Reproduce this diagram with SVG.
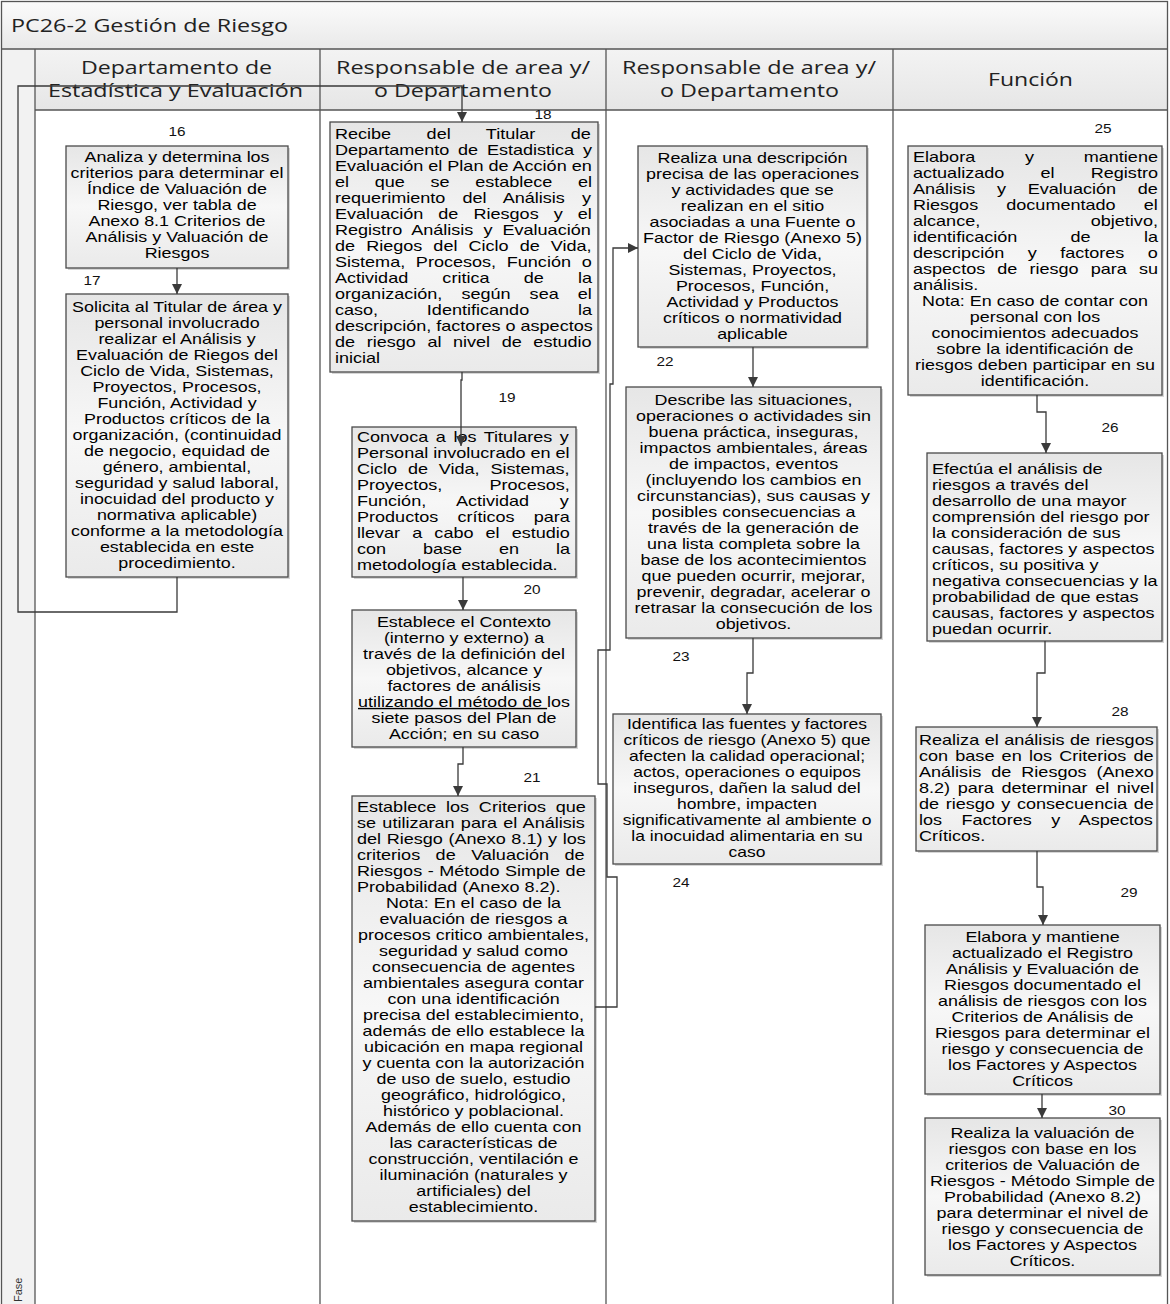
<svg xmlns="http://www.w3.org/2000/svg" width="1170" height="1304" viewBox="0 0 1170 1304">
<defs>
<linearGradient id="gb" x1="0" y1="0" x2="0" y2="1"><stop offset="0" stop-color="#e6e6e6"/><stop offset="0.5" stop-color="#f7f7f7"/><stop offset="1" stop-color="#eaeaea"/></linearGradient>
<linearGradient id="gt" x1="0" y1="0" x2="0" y2="1"><stop offset="0" stop-color="#fbfbfb"/><stop offset="1" stop-color="#e9e9e9"/></linearGradient>
<linearGradient id="gh" x1="0" y1="0" x2="0" y2="1"><stop offset="0" stop-color="#f3f3f3"/><stop offset="1" stop-color="#e6e6e6"/></linearGradient>
<marker id="ah" markerUnits="userSpaceOnUse" markerWidth="10" markerHeight="10" viewBox="0 0 10 10" refX="10" refY="5" orient="auto"><path d="M0,0 L10,5 L0,10 z" fill="#3a3a3a"/></marker>
</defs>
<style>
.box{fill:url(#gb);stroke:#4a4a4a;stroke-width:1.3}
.sh{fill:#000;opacity:.16}
.t{font-family:"Liberation Sans",Arial,sans-serif;font-size:14px;fill:#000}
.c{text-anchor:middle}
.n{font-family:"Liberation Sans",Arial,sans-serif;font-size:12px;fill:#111;text-anchor:middle}
.conn{fill:none;stroke:#3a3a3a;stroke-width:1.3;marker-end:url(#ah)}
.line{fill:none;stroke:#555;stroke-width:1.3}
.h{font-family:"Open Sans","Noto Sans",sans-serif;font-size:18px;fill:#222}
</style>
<g id="frame">
<rect x="0" y="0" width="1170" height="1304" fill="#fff"/>
<rect x="1.5" y="1.5" width="1166" height="48" fill="url(#gt)"/>
<rect x="35" y="49" width="1132" height="61" fill="url(#gh)"/>
<rect x="1.5" y="49" width="33.5" height="1260" fill="#f2f2f2"/>
<rect x="1.5" y="1.5" width="1166" height="1310" class="line"/>
<line x1="1.5" y1="49" x2="1167.5" y2="49" class="line"/>
<line x1="35" y1="110" x2="1167.5" y2="110" class="line"/>
<line x1="35" y1="49" x2="35" y2="1304" class="line"/>
<line x1="320" y1="49" x2="320" y2="1304" class="line"/>
<line x1="606" y1="49" x2="606" y2="1304" class="line"/>
<line x1="893" y1="49" x2="893" y2="1304" class="line"/>
<text class="h" x="11" y="32" font-size="19" textLength="277" lengthAdjust="spacingAndGlyphs">PC26-2 Gestión de Riesgo</text>
<text class="h" x="81" y="74" textLength="191" lengthAdjust="spacingAndGlyphs">Departamento de</text>
<text class="h" x="48" y="97" textLength="255" lengthAdjust="spacingAndGlyphs">Estadística y Evaluación</text>
<text class="h" x="336" y="74" textLength="254" lengthAdjust="spacingAndGlyphs">Responsable de area y/</text>
<text class="h" x="374" y="97" textLength="178" lengthAdjust="spacingAndGlyphs">o Departamento</text>
<text class="h" x="622" y="74" textLength="254" lengthAdjust="spacingAndGlyphs">Responsable de area y/</text>
<text class="h" x="660" y="97" textLength="179" lengthAdjust="spacingAndGlyphs">o Departamento</text>
<text class="h" x="988" y="86" textLength="85" lengthAdjust="spacingAndGlyphs">Función</text>
<text font-family="Liberation Sans, Arial, sans-serif" font-size="11" fill="#333" transform="translate(22,1302) rotate(-90)">Fase</text>
</g>
<g id="n16">
<rect class="sh" x="68" y="148" width="222" height="122"/><rect class="box" x="66" y="146" width="222" height="122"/>
<text class="n" transform="matrix(1.28 0 0 1 177 136)">16</text>
<text class="t c" transform="matrix(1.28 0 0 1 177 0)"><tspan x="0" y="162">Analiza y determina los</tspan><tspan x="0" y="178">criterios para determinar el</tspan><tspan x="0" y="194">Índice de Valuación de</tspan><tspan x="0" y="210">Riesgo, ver tabla de</tspan><tspan x="0" y="226">Anexo 8.1 Criterios de</tspan><tspan x="0" y="242">Análisis y Valuación de</tspan><tspan x="0" y="258">Riesgos</tspan></text>
</g>
<g id="n17">
<rect class="sh" x="68" y="296" width="222" height="283"/><rect class="box" x="66" y="294" width="222" height="283"/>
<text class="n" transform="matrix(1.28 0 0 1 92 285)">17</text>
<text class="t c" transform="matrix(1.28 0 0 1 177 0)"><tspan x="0" y="312">Solicita al Titular de área y</tspan><tspan x="0" y="328">personal involucrado</tspan><tspan x="0" y="344">realizar el Análisis y</tspan><tspan x="0" y="360">Evaluación de Riegos del</tspan><tspan x="0" y="376">Ciclo de Vida, Sistemas,</tspan><tspan x="0" y="392">Proyectos, Procesos,</tspan><tspan x="0" y="408">Función, Actividad y</tspan><tspan x="0" y="424">Productos críticos de la</tspan><tspan x="0" y="440">organización, (continuidad</tspan><tspan x="0" y="456">de negocio, equidad de</tspan><tspan x="0" y="472">género, ambiental,</tspan><tspan x="0" y="488">seguridad y salud laboral,</tspan><tspan x="0" y="504">inocuidad del producto y</tspan><tspan x="0" y="520">normativa aplicable)</tspan><tspan x="0" y="536">conforme a la metodología</tspan><tspan x="0" y="552">establecida en este</tspan><tspan x="0" y="568">procedimiento.</tspan></text>
</g>
<g id="n18">
<rect class="sh" x="332" y="124" width="268" height="250"/><rect class="box" x="330" y="122" width="268" height="250"/>
<text class="n" transform="matrix(1.28 0 0 1 543 119)">18</text>
<text class="t" transform="matrix(1.29 0 0 1 335 0)"><tspan x="0" y="139" word-spacing="23.6">Recibe del Titular de</tspan><tspan x="0" y="155" word-spacing="2.9">Departamento de Estadistica y</tspan><tspan x="0" y="171">Evaluación el Plan de Acción en</tspan><tspan x="0" y="187" word-spacing="16">el que se establece el</tspan><tspan x="0" y="203" word-spacing="9.4">requerimiento del Análisis y</tspan><tspan x="0" y="219" word-spacing="7.8">Evaluación de Riesgos y el</tspan><tspan x="0" y="235" word-spacing="3.9">Registro Análisis y Evaluación</tspan><tspan x="0" y="251" word-spacing="4.7">de Riegos del Ciclo de Vida,</tspan><tspan x="0" y="267" word-spacing="4.4">Sistema, Procesos, Función o</tspan><tspan x="0" y="283" word-spacing="22.6">Actividad critica de la</tspan><tspan x="0" y="299" word-spacing="10.9">organización, según sea el</tspan><tspan x="0" y="315" word-spacing="33.9">caso, Identificando la</tspan><tspan x="0" y="331">descripción, factores o aspectos</tspan><tspan x="0" y="347" word-spacing="5.1">de riesgo al nivel de estudio</tspan><tspan x="0" y="363">inicial</tspan></text>
</g>
<g id="n19">
<rect class="sh" x="354" y="429" width="224" height="150"/><rect class="box" x="352" y="427" width="224" height="150"/>
<text class="n" transform="matrix(1.28 0 0 1 507 402)">19</text>
<text class="t" transform="matrix(1.29 0 0 1 357 0)"><tspan x="0" y="442" word-spacing="2">Convoca a los Titulares y</tspan><tspan x="0" y="458">Personal involucrado en el</tspan><tspan x="0" y="474" word-spacing="4.5">Ciclo de Vida, Sistemas,</tspan><tspan x="0" y="490" word-spacing="32.8">Proyectos, Procesos,</tspan><tspan x="0" y="506" word-spacing="19.9">Función, Actividad y</tspan><tspan x="0" y="522" word-spacing="11">Productos críticos para</tspan><tspan x="0" y="538" word-spacing="5.5">llevar a cabo el estudio</tspan><tspan x="0" y="554" word-spacing="24.7">con base en la</tspan><tspan x="0" y="570">metodología establecida.</tspan></text>
</g>
<g id="n20">
<rect class="sh" x="354" y="612" width="224" height="137"/><rect class="box" x="352" y="610" width="224" height="137"/>
<text class="n" transform="matrix(1.28 0 0 1 532 594)">20</text>
<text class="t c" transform="matrix(1.28 0 0 1 464 0)"><tspan x="0" y="627">Establece el Contexto</tspan><tspan x="0" y="643">(interno y externo) a</tspan><tspan x="0" y="659">través de la definición del</tspan><tspan x="0" y="675">objetivos, alcance y</tspan><tspan x="0" y="691">factores de análisis</tspan><tspan x="0" y="707"><tspan text-decoration="underline">utilizando el método de </tspan>los</tspan><tspan x="0" y="723">siete pasos del Plan de</tspan><tspan x="0" y="739">Acción; en su caso</tspan></text>
</g>
<g id="n21">
<rect class="sh" x="354" y="798" width="243" height="425"/><rect class="box" x="352" y="796" width="243" height="425"/>
<text class="n" transform="matrix(1.28 0 0 1 532 782)">21</text>
<text class="t" transform="matrix(1.29 0 0 1 357 0)"><tspan x="0" y="812" word-spacing="3.7">Establece los Criterios que</tspan><tspan x="0" y="828" word-spacing="1">se utilizaran para el Análisis</tspan><tspan x="0" y="844" word-spacing="0.5">del Riesgo (Anexo 8.1) y los</tspan><tspan x="0" y="860" word-spacing="8.1">criterios de Valuación de</tspan><tspan x="0" y="876" word-spacing="0.4">Riesgos - Método Simple de</tspan><tspan x="0" y="892">Probabilidad (Anexo 8.2).</tspan></text>
<text class="t c" transform="matrix(1.28 0 0 1 473.5 0)"><tspan x="0" y="908">Nota: En el caso de la</tspan><tspan x="0" y="924">evaluación de riesgos a</tspan><tspan x="0" y="940">procesos critico ambientales,</tspan><tspan x="0" y="956">seguridad y salud como</tspan><tspan x="0" y="972">consecuencia de agentes</tspan><tspan x="0" y="988">ambientales asegura contar</tspan><tspan x="0" y="1004">con una identificación</tspan><tspan x="0" y="1020">precisa del establecimiento,</tspan><tspan x="0" y="1036">además de ello establece la</tspan><tspan x="0" y="1052">ubicación en mapa regional</tspan><tspan x="0" y="1068">y cuenta con la autorización</tspan><tspan x="0" y="1084">de uso de suelo, estudio</tspan><tspan x="0" y="1100">geográfico, hidrológico,</tspan><tspan x="0" y="1116">histórico y poblacional.</tspan><tspan x="0" y="1132">Además de ello cuenta con</tspan><tspan x="0" y="1148">las características de</tspan><tspan x="0" y="1164">construcción, ventilación e</tspan><tspan x="0" y="1180">iluminación (naturales y</tspan><tspan x="0" y="1196">artificiales) del</tspan><tspan x="0" y="1212">establecimiento.</tspan></text>
</g>
<g id="n22">
<rect class="sh" x="640" y="148" width="229" height="201"/><rect class="box" x="638" y="146" width="229" height="201"/>
<text class="n" transform="matrix(1.28 0 0 1 665 366)">22</text>
<text class="t c" transform="matrix(1.28 0 0 1 752.5 0)"><tspan x="0" y="163">Realiza una descripción</tspan><tspan x="0" y="179">precisa de las operaciones</tspan><tspan x="0" y="195">y actividades que se</tspan><tspan x="0" y="211">realizan en el sitio</tspan><tspan x="0" y="227">asociadas a una Fuente o</tspan><tspan x="0" y="243">Factor de Riesgo (Anexo 5)</tspan><tspan x="0" y="259">del Ciclo de Vida,</tspan><tspan x="0" y="275">Sistemas, Proyectos,</tspan><tspan x="0" y="291">Procesos, Función,</tspan><tspan x="0" y="307">Actividad y Productos</tspan><tspan x="0" y="323">críticos o normatividad</tspan><tspan x="0" y="339">aplicable</tspan></text>
</g>
<g id="n23">
<rect class="sh" x="628" y="389" width="255" height="251"/><rect class="box" x="626" y="387" width="255" height="251"/>
<text class="n" transform="matrix(1.28 0 0 1 681 661)">23</text>
<text class="t c" transform="matrix(1.28 0 0 1 753.5 0)"><tspan x="0" y="405">Describe las situaciones,</tspan><tspan x="0" y="421">operaciones o actividades sin</tspan><tspan x="0" y="437">buena práctica, inseguras,</tspan><tspan x="0" y="453">impactos ambientales, áreas</tspan><tspan x="0" y="469">de impactos, eventos</tspan><tspan x="0" y="485">(incluyendo los cambios en</tspan><tspan x="0" y="501">circunstancias), sus causas y</tspan><tspan x="0" y="517">posibles consecuencias a</tspan><tspan x="0" y="533">través de la generación de</tspan><tspan x="0" y="549">una lista completa sobre la</tspan><tspan x="0" y="565">base de los acontecimientos</tspan><tspan x="0" y="581">que pueden ocurrir, mejorar,</tspan><tspan x="0" y="597">prevenir, degradar, acelerar o</tspan><tspan x="0" y="613">retrasar la consecución de los</tspan><tspan x="0" y="629">objetivos.</tspan></text>
</g>
<g id="n24">
<rect class="sh" x="615" y="716" width="268" height="150"/><rect class="box" x="613" y="714" width="268" height="150"/>
<text class="n" transform="matrix(1.28 0 0 1 681 887)">24</text>
<text class="t c" transform="matrix(1.25 0 0 1 747 0)"><tspan x="0" y="729">Identifica las fuentes y factores</tspan><tspan x="0" y="745">críticos de riesgo (Anexo 5) que</tspan><tspan x="0" y="761">afecten la calidad operacional;</tspan><tspan x="0" y="777">actos, operaciones o equipos</tspan><tspan x="0" y="793">inseguros, dañen la salud del</tspan><tspan x="0" y="809">hombre, impacten</tspan><tspan x="0" y="825">significativamente al ambiente o</tspan><tspan x="0" y="841">la inocuidad alimentaria en su</tspan><tspan x="0" y="857">caso</tspan></text>
</g>
<g id="n25">
<rect class="sh" x="910" y="148" width="254" height="249"/><rect class="box" x="908" y="146" width="254" height="249"/>
<text class="n" transform="matrix(1.28 0 0 1 1103 133)">25</text>
<text class="t" transform="matrix(1.29 0 0 1 913 0)"><tspan x="0" y="162" word-spacing="34.7">Elabora y mantiene</tspan><tspan x="0" y="178" word-spacing="24.2">actualizado el Registro</tspan><tspan x="0" y="194" word-spacing="13">Análisis y Evaluación de</tspan><tspan x="0" y="210" word-spacing="17.9">Riesgos documentado el</tspan><tspan x="0" y="226" word-spacing="81.8">alcance, objetivo,</tspan><tspan x="0" y="242" word-spacing="37.4">identificación de la</tspan><tspan x="0" y="258" word-spacing="14.3">descripción y factores o</tspan><tspan x="0" y="274" word-spacing="5.5">aspectos de riesgo para su</tspan><tspan x="0" y="290">análisis.</tspan></text>
<text class="t c" transform="matrix(1.28 0 0 1 1035 0)"><tspan x="0" y="306">Nota: En caso de contar con</tspan><tspan x="0" y="322">personal con los</tspan><tspan x="0" y="338">conocimientos adecuados</tspan><tspan x="0" y="354">sobre la identificación de</tspan><tspan x="0" y="370">riesgos deben participar en su</tspan><tspan x="0" y="386">identificación.</tspan></text>
</g>
<g id="n26">
<rect class="sh" x="929" y="455" width="235" height="188"/><rect class="box" x="927" y="453" width="235" height="188"/>
<text class="n" transform="matrix(1.28 0 0 1 1110 432)">26</text>
<text class="t" transform="matrix(1.29 0 0 1 932 0)"><tspan x="0" y="474">Efectúa el análisis de</tspan><tspan x="0" y="490">riesgos a través del</tspan><tspan x="0" y="506">desarrollo de una mayor</tspan><tspan x="0" y="522">comprensión del riesgo por</tspan><tspan x="0" y="538">la consideración de sus</tspan><tspan x="0" y="554">causas, factores y aspectos</tspan><tspan x="0" y="570">críticos, su positiva y</tspan><tspan x="0" y="586">negativa consecuencias y la</tspan><tspan x="0" y="602">probabilidad de que estas</tspan><tspan x="0" y="618">causas, factores y aspectos</tspan><tspan x="0" y="634">puedan ocurrir.</tspan></text>
</g>
<g id="n28">
<rect class="sh" x="918" y="729" width="241" height="124"/><rect class="box" x="916" y="727" width="241" height="124"/>
<text class="n" transform="matrix(1.28 0 0 1 1120 716)">28</text>
<text class="t" transform="matrix(1.29 0 0 1 919 0)"><tspan x="0" y="745" word-spacing="0.4">Realiza el análisis de riesgos</tspan><tspan x="0" y="761" word-spacing="1.7">con base en los Criterios de</tspan><tspan x="0" y="777" word-spacing="3.9">Análisis de Riesgos (Anexo</tspan><tspan x="0" y="793" word-spacing="2">8.2) para determinar el nivel</tspan><tspan x="0" y="809" word-spacing="1.2">de riesgo y consecuencia de</tspan><tspan x="0" y="825" word-spacing="11.2">los Factores y Aspectos</tspan><tspan x="0" y="841">Críticos.</tspan></text>
</g>
<g id="n29">
<rect class="sh" x="927" y="927" width="235" height="169"/><rect class="box" x="925" y="925" width="235" height="169"/>
<text class="n" transform="matrix(1.28 0 0 1 1129 897)">29</text>
<text class="t c" transform="matrix(1.28 0 0 1 1042.5 0)"><tspan x="0" y="942">Elabora y mantiene</tspan><tspan x="0" y="958">actualizado el Registro</tspan><tspan x="0" y="974">Análisis y Evaluación de</tspan><tspan x="0" y="990">Riesgos documentado el</tspan><tspan x="0" y="1006">análisis de riesgos con los</tspan><tspan x="0" y="1022">Criterios de Análisis de</tspan><tspan x="0" y="1038">Riesgos para determinar el</tspan><tspan x="0" y="1054">riesgo y consecuencia de</tspan><tspan x="0" y="1070">los Factores y Aspectos</tspan><tspan x="0" y="1086">Críticos</tspan></text>
</g>
<g id="n30">
<rect class="sh" x="927" y="1120" width="235" height="157"/><rect class="box" x="925" y="1118" width="235" height="157"/>
<text class="n" transform="matrix(1.28 0 0 1 1117 1115)">30</text>
<text class="t c" transform="matrix(1.28 0 0 1 1042.5 0)"><tspan x="0" y="1138">Realiza la valuación de</tspan><tspan x="0" y="1154">riesgos con base en los</tspan><tspan x="0" y="1170">criterios de Valuación de</tspan><tspan x="0" y="1186">Riesgos - Método Simple de</tspan><tspan x="0" y="1202">Probabilidad (Anexo 8.2)</tspan><tspan x="0" y="1218">para determinar el nivel de</tspan><tspan x="0" y="1234">riesgo y consecuencia de</tspan><tspan x="0" y="1250">los Factores y Aspectos</tspan><tspan x="0" y="1266">Críticos.</tspan></text>
</g>
<g id="connectors">
<path class="conn" d="M177,268 V294"/>
<path class="conn" d="M177,577 V612 H18 V86 H462 V122"/>
<path class="conn" d="M462,372 V380 H461 V446"/>
<path class="conn" d="M463,577 V610"/>
<path class="conn" d="M463,747 V764 H458 V796"/>
<path class="conn" d="M595,1007 H617 V877 H607 V784 H598 V650 H610 V384 H613 V248 H638"/>
<path class="conn" d="M753,347 V387"/>
<path class="conn" d="M753,638 V673 H747 V714"/>
<path class="conn" d="M1037,395 V412 H1046 V453"/>
<path class="conn" d="M1045,641 V673 H1037 V727"/>
<path class="conn" d="M1037,851 V887 H1043 V925"/>
<path class="conn" d="M1042,1094 V1118"/>
</g>
</svg>
